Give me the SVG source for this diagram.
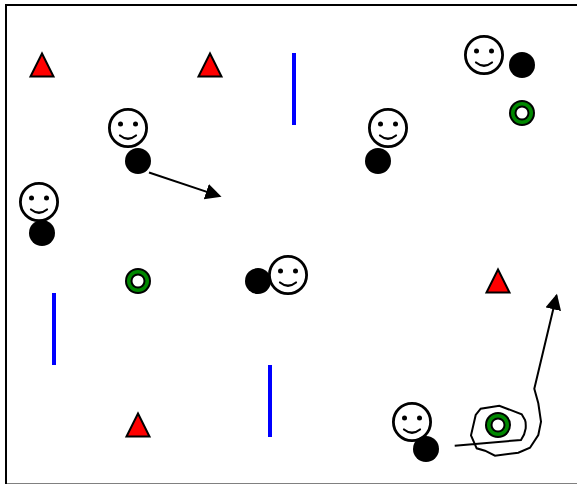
<svg xmlns="http://www.w3.org/2000/svg" width="577" height="484" viewBox="0 0 577 484">
<defs>
<style>
.f{fill:#fff;stroke:#000;stroke-width:2.800}
.s{fill:none;stroke:#000;stroke-width:2.200;stroke-linecap:round}
.b{fill:#000}
.t{fill:#f00;stroke:#000;stroke-width:2;stroke-linejoin:miter}
.w{stroke:#00f;stroke-width:4;fill:none}
.c{fill:none;stroke:#000;stroke-width:2}
</style>
<g id="face"><circle class="f" r="18.600"/><circle class="b" cx="-7.500" cy="-4" r="2.500"/><circle class="b" cx="7.500" cy="-4" r="2.500"/><path class="s" d="M-8 7.500Q0 14 8 7.500"/></g>
<path id="tri" class="t" d="M0-11.500L11.500 11.500H-11.500Z"/>
<g id="ring"><circle class="b" r="13"/><circle fill="#080" r="11"/><circle class="b" r="7.500"/><circle fill="#fff" r="5.500"/></g>
<marker id="ah" markerUnits="userSpaceOnUse" markerWidth="18" markerHeight="18" refX="14" refY="8" orient="auto"><path d="M0 0L16 8L0 16Z" fill="#000"/></marker>
</defs>
<rect id="frame" x="6" y="5" width="600" height="479.500" fill="#fff" stroke="#000" stroke-width="2"/>
<g id="connectors">
<path class="c" d="M149 172.500L219.600 196.100" marker-end="url(#ah)"/>
<path class="c" d="M454.700 445.700L521 440Q525 434 525.700 428.300Q526 422 525 420L521.700 414.300L499.300 405.700L480.700 408.700L475.700 415L471 435.300L476.700 448.300L485 450.700L495 455.700L518.300 452.700L530 447.700L538.300 435L541 421.700L538.300 403.300L534.300 388.700L556.500 295.600" marker-end="url(#ah)"/>
</g>
<g id="tri1"><use href="#tri" x="42" y="65"/></g>
<g id="tri2"><use href="#tri" x="210" y="65"/></g>
<g id="tri3"><use href="#tri" x="498" y="281"/></g>
<g id="tri4"><use href="#tri" x="138" y="425"/></g>
<g id="wall1"><path class="w" d="M294 53V125"/></g>
<g id="wall2"><path class="w" d="M54 293V365"/></g>
<g id="wall3"><path class="w" d="M270 365V437"/></g>
<g id="ring1"><use href="#ring" x="522" y="113"/></g>
<g id="ring2"><use href="#ring" x="138" y="281"/></g>
<g id="ring3"><use href="#ring" x="498" y="425"/></g>
<g id="player1"><use href="#face" x="128" y="128"/><circle class="b" cx="138" cy="161" r="13"/></g>
<g id="player2"><use href="#face" x="39" y="202"/><circle class="b" cx="42" cy="233" r="13"/></g>
<g id="player3"><use href="#face" x="388" y="128"/><circle class="b" cx="378" cy="161" r="13"/></g>
<g id="player4"><use href="#face" x="484" y="55"/><circle class="b" cx="522" cy="65" r="13"/></g>
<g id="player5"><circle class="b" cx="258" cy="281" r="13"/><use href="#face" x="288" y="275"/></g>
<g id="player6"><use href="#face" x="412" y="422"/><circle class="b" cx="426" cy="449" r="13"/></g>
</svg>
